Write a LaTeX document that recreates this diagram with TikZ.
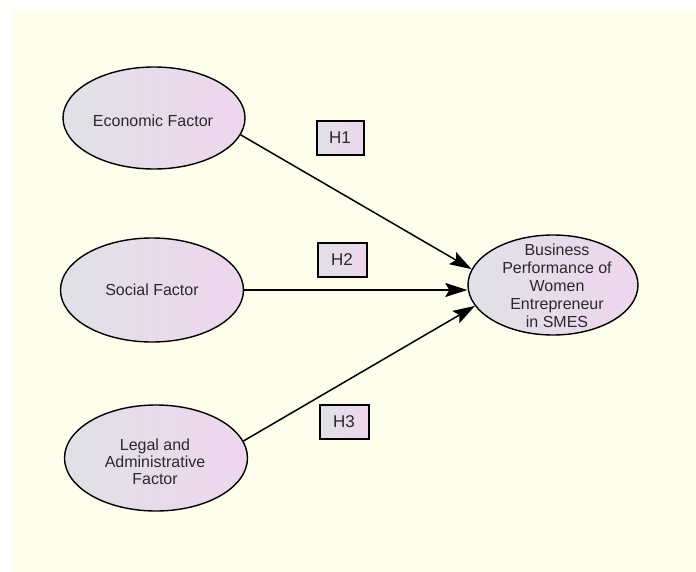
\documentclass[tikz,border=0pt]{standalone}
\usepackage{fontspec}
\setmainfont{Liberation Sans}
\usetikzlibrary{arrows.meta,shapes.geometric}
\definecolor{bg}{HTML}{FDFEEC}
\definecolor{lgray}{HTML}{E0E1E6}
\definecolor{lpink}{HTML}{EED6EE}
\definecolor{txt}{HTML}{2A2A2A}
\begin{document}
\begin{tikzpicture}[x=1pt,y=-1pt,
  latent/.style={ellipse, draw=black, line width=1.4pt, left color=lgray, right color=lpink, inner sep=0pt},
  ltext/.style={text=txt, font=\fontsize{16}{17}\selectfont, align=center, inner sep=0pt},
  hbox/.style={rectangle, draw=black, line width=2pt, left color=lgray, right color=lpink, text=txt, font=\fontsize{17}{18}\selectfont, minimum width=47pt, minimum height=34pt, inner sep=0pt},
  conn/.style={line width=1.5pt, draw=black, -{Stealth[length=22pt,width=14pt,inset=4pt]}}]
\useasboundingbox (0,0) rectangle (696,572);
\fill[bg] (13,10) rectangle (696,572);

\node[latent, minimum width=182pt, minimum height=102pt] (eco) at (154,118) {};
\node[latent, minimum width=183pt, minimum height=104pt] (soc) at (152,290) {};
\node[latent, minimum width=183pt, minimum height=106pt] (leg) at (156,458) {};
\node[latent, minimum width=170pt, minimum height=100pt] (bus) at (553,285) {};

\node[ltext] (ecot) at (153,121) {Economic Factor};
\node[ltext] (soct) at (152,290) {Social Factor};
\node[ltext] (legt) at (155,462) {Legal and\\Administrative\\Factor};
\node[ltext, font=\fontsize{16}{18}\selectfont] (bust) at (557,286) {Business\\Performance of\\Women\\Entrepreneur\\in SMES};

\node[hbox] (h1) at (340,138) {H1};
\node[hbox, minimum width=49pt] (h2) at (342,260) {H2};
\node[hbox, minimum width=49pt] (h3) at (344,422) {H3};

\draw[conn] (eco.-11.5) -- (bus.169.5);
\draw[conn] (soc.east) -- (soc.east -| bus.west);
\draw[conn] (leg.11.3) -- (bus.195);
\end{tikzpicture}
\end{document}
